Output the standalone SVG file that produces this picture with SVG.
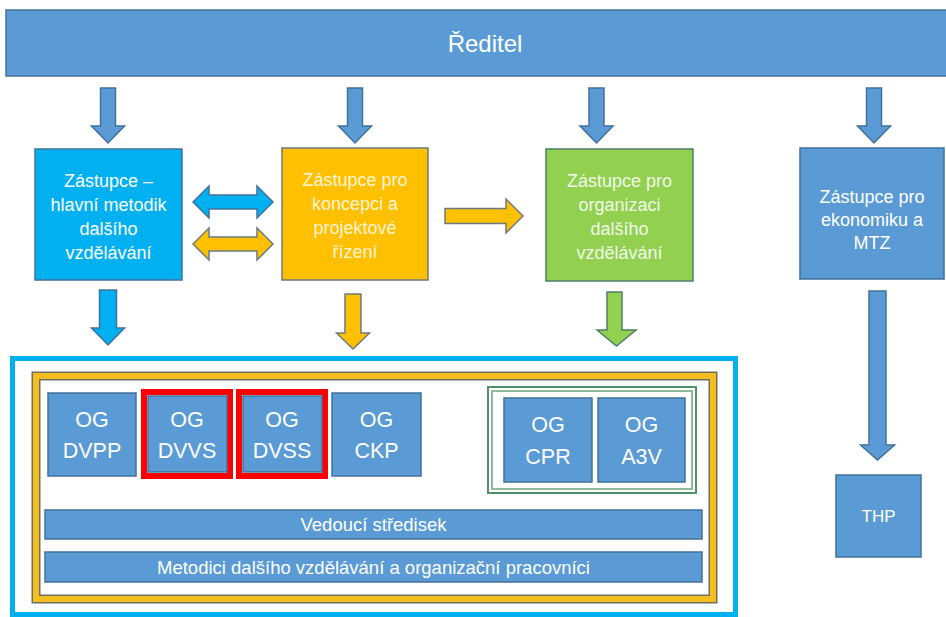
<svg xmlns="http://www.w3.org/2000/svg" width="946" height="617" viewBox="0 0 946 617">
<style>
.bg{fill:#ffffff}
.blue{fill:#5B9BD5;stroke:#41719C;stroke-width:1.5}
.cyan{fill:#00B0F0;stroke:#41719C;stroke-width:1.5}
.yel{fill:#FFC000;stroke:#6f7a80;stroke-width:1.5}
.grn{fill:#92D050;stroke:#4f7f6a;stroke-width:1.5}
.t{font-family:"Liberation Sans",Arial,sans-serif;fill:#ffffff;text-anchor:middle}
.mid{font-size:18px}
.og{font-size:21.5px}
.bar{font-size:18.5px}
</style>
<rect class="bg" x="0" y="0" width="946" height="617"/>

<g id="reditel">
<rect class="blue" x="6" y="10" width="945" height="66"/>
<text class="t" x="485" y="52" font-size="24">Ředitel</text>
</g>

<g id="connectors">
<polygon class="blue" points="100.5,88 115.5,88 115.5,126 124.5,126 108,143 91.5,126 100.5,126"/>
<polygon class="blue" points="347.5,88 362.5,88 362.5,126 371.5,126 355,143 338.5,126 347.5,126"/>
<polygon class="blue" points="589,88 604,88 604,126 613,126 596.5,143 580,126 589,126"/>
<polygon class="blue" points="866.5,88 881.5,88 881.5,126 890.5,126 874,143 857.5,126 866.5,126"/>
<polygon class="cyan" points="193,202 209,186 209,195 257,195 257,186 273,202 257,218 257,209 209,209 209,218"/>
<polygon class="yel" points="193,244 209,228 209,237 257,237 257,228 273,244 257,260 257,251 209,251 209,260"/>
<polygon class="yel" points="445,208.5 506,208.5 506,199 523,216 506,233 506,223.5 445,223.5"/>
<polygon class="cyan" points="99.5,290 116.5,290 116.5,328 124.5,328 108,345 91.5,328 99.5,328"/>
<polygon class="yel" points="345,294 361,294 361,333 369.5,333 353,349 336.5,333 345,333"/>
<polygon class="grn" points="607,292 622,292 622,330 636,330 616.5,346 597,330 607,330"/>
<polygon class="blue" points="869,291 886,291 886,445 894.5,445 877.5,460 860.5,445 869,445"/>
</g>

<g id="zastupce-metodik">
<rect class="cyan" x="35" y="149" width="147" height="131"/>
<text class="t mid"><tspan x="108.5" y="187">Zástupce –</tspan><tspan x="108.5" y="211">hlavní metodik</tspan><tspan x="108.5" y="235">dalšího</tspan><tspan x="108.5" y="259">vzdělávání</tspan></text>
</g>

<g id="zastupce-koncepce">
<rect class="yel" x="282" y="148" width="146" height="132"/>
<text class="t mid" fill-opacity="0.85"><tspan x="355" y="186">Zástupce pro</tspan><tspan x="355" y="210">koncepci a</tspan><tspan x="355" y="234">projektové</tspan><tspan x="355" y="258">řízení</tspan></text>
</g>

<g id="zastupce-organizace">
<rect class="grn" x="546" y="149" width="147" height="132"/>
<text class="t mid" fill-opacity="0.9"><tspan x="619.5" y="187">Zástupce pro</tspan><tspan x="619.5" y="211">organizaci</tspan><tspan x="619.5" y="235">dalšího</tspan><tspan x="619.5" y="259">vzdělávání</tspan></text>
</g>

<g id="zastupce-ekonomika">
<rect class="blue" x="800" y="148" width="144" height="131"/>
<text class="t mid"><tspan x="872" y="203">Zástupce pro</tspan><tspan x="872" y="226">ekonomiku a</tspan><tspan x="872" y="249">MTZ</tspan></text>
</g>

<g id="thp">
<rect class="blue" x="836" y="475" width="85" height="82"/>
<text class="t" x="878.5" y="522" font-size="17">THP</text>
</g>

<g id="container">
<rect x="12.5" y="358.5" width="723" height="256" fill="none" stroke="#00B0F0" stroke-width="5"/>
<rect x="36" y="376" width="677" height="223" fill="none" stroke="#6f6f5f" stroke-width="9"/>
<rect x="36" y="376" width="677" height="223" fill="none" stroke="#F5BE1F" stroke-width="6"/>
</g>

<g id="og-dvpp">
<rect class="blue" x="48" y="393" width="88" height="83"/>
<text class="t og"><tspan x="92" y="427">OG</tspan><tspan x="92" y="458">DVPP</tspan></text>
</g>

<g id="og-dvvs">
<rect x="144" y="392" width="86" height="84" fill="none" stroke="#FF0000" stroke-width="6"/>
<rect class="blue" x="148" y="396" width="79" height="76" stroke="none"/>
<text class="t og"><tspan x="187" y="427">OG</tspan><tspan x="187" y="458">DVVS</tspan></text>
</g>

<g id="og-dvss">
<rect x="239" y="392" width="86" height="84" fill="none" stroke="#FF0000" stroke-width="6"/>
<rect class="blue" x="243" y="396" width="79" height="76" stroke="none"/>
<text class="t og"><tspan x="282" y="427">OG</tspan><tspan x="282" y="458">DVSS</tspan></text>
</g>

<g id="og-ckp">
<rect class="blue" x="332" y="393" width="89" height="83"/>
<text class="t og"><tspan x="376.5" y="427">OG</tspan><tspan x="376.5" y="458">CKP</tspan></text>
</g>

<g id="og-group">
<rect x="488" y="387" width="208" height="106" fill="none" stroke="#4f8f6a" stroke-width="2"/>
<rect x="492" y="391" width="200" height="98" fill="none" stroke="#6aa57a" stroke-width="1.5"/>
</g>

<g id="og-cpr">
<rect class="blue" x="504" y="398" width="88" height="84"/>
<text class="t og"><tspan x="548" y="432">OG</tspan><tspan x="548" y="464">CPR</tspan></text>
</g>

<g id="og-a3v">
<rect class="blue" x="598" y="398" width="87" height="84"/>
<text class="t og"><tspan x="641.5" y="432">OG</tspan><tspan x="641.5" y="464">A3V</tspan></text>
</g>

<g id="vedouci">
<rect class="blue" x="45" y="510" width="657" height="29"/>
<text class="t bar" x="373.5" y="531">Vedoucí středisek</text>
</g>

<g id="metodici">
<rect class="blue" x="45" y="552" width="657" height="30"/>
<text class="t bar" x="373.5" y="574">Metodici dalšího vzdělávání a organizační pracovníci</text>
</g>
</svg>
